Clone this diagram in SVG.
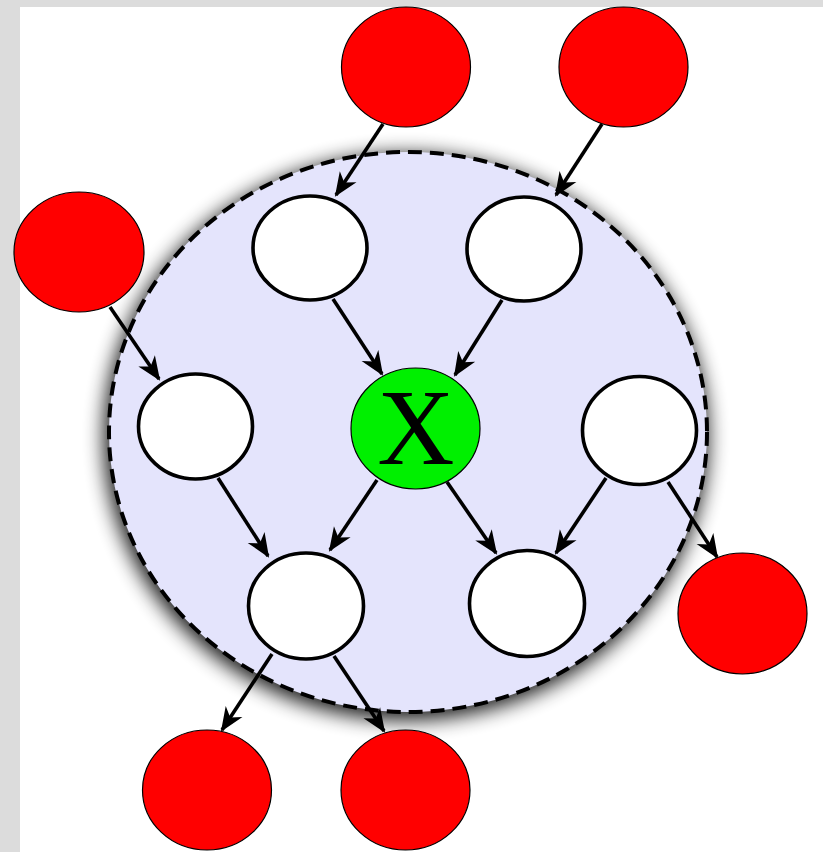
<svg xmlns="http://www.w3.org/2000/svg" width="823" height="852" viewBox="0 0 823 852">
<defs>
<style>
.red{fill:#ff0000;stroke:#000;stroke-width:1.2}
.white{fill:#fff;stroke:#000;stroke-width:3.6}
.edge{stroke:#000;stroke-width:3.6;fill:none;marker-end:url(#arr)}
</style>
<marker id="arr" viewBox="-26 -12 28 24" refX="-2" refY="0" markerWidth="28" markerHeight="24" markerUnits="userSpaceOnUse" orient="auto">
<path d="M0,0 L-24,-10 L-17,0 L-24,10 z" fill="#000"/>
</marker>
<filter id="blur" x="-20%" y="-20%" width="140%" height="140%">
<feGaussianBlur stdDeviation="10"/>
</filter>
</defs>
<rect x="0" y="0" width="823" height="852" fill="#dcdcdc"/>
<rect x="20" y="7" width="803" height="845" fill="#fff"/>
<g id="cluster">
<ellipse cx="406" cy="437" rx="302" ry="283" fill="#000" opacity="0.9" filter="url(#blur)"/>
<ellipse cx="408" cy="432" rx="299" ry="280" fill="#e4e4fc" stroke="#000" stroke-width="4" stroke-dasharray="14 8"/>
</g>
<g id="connectors">
<line class="edge" x1="383" y1="124" x2="336" y2="195"/>
<line class="edge" x1="602" y1="124" x2="556" y2="195"/>
<line class="edge" x1="110" y1="307" x2="159" y2="379"/>
<line class="edge" x1="333" y1="299" x2="382" y2="374"/>
<line class="edge" x1="502" y1="300" x2="455" y2="375"/>
<line class="edge" x1="218" y1="478" x2="268" y2="556"/>
<line class="edge" x1="377" y1="480" x2="330" y2="550"/>
<line class="edge" x1="447" y1="482" x2="496" y2="553"/>
<line class="edge" x1="606" y1="478" x2="556" y2="553"/>
<line class="edge" x1="668" y1="482" x2="717" y2="557"/>
<line class="edge" x1="272" y1="654" x2="222" y2="730"/>
<line class="edge" x1="334" y1="656" x2="384" y2="731"/>
</g>
<g id="r1"><ellipse class="red" cx="406" cy="67" rx="64.5" ry="60"/></g>
<g id="r2"><ellipse class="red" cx="623.5" cy="67" rx="64.5" ry="60"/></g>
<g id="r3"><ellipse class="red" cx="79" cy="252" rx="65" ry="60"/></g>
<g id="r4"><ellipse class="red" cx="742.5" cy="613.5" rx="64.5" ry="60.5"/></g>
<g id="r5"><ellipse class="red" cx="207" cy="790" rx="64.5" ry="60"/></g>
<g id="r6"><ellipse class="red" cx="405.5" cy="790" rx="64.5" ry="60"/></g>
<g id="w1"><ellipse class="white" cx="310" cy="248" rx="57" ry="52"/></g>
<g id="w2"><ellipse class="white" cx="524" cy="249" rx="57" ry="52"/></g>
<g id="w3"><ellipse class="white" cx="195.5" cy="426.5" rx="57" ry="52.5"/></g>
<g id="w4"><ellipse class="white" cx="639.5" cy="430.5" rx="57" ry="54"/></g>
<g id="w5"><ellipse class="white" cx="306" cy="606" rx="57.5" ry="53"/></g>
<g id="w6"><ellipse class="white" cx="527" cy="603.5" rx="57.5" ry="53"/></g>
<g id="x">
<ellipse cx="415.5" cy="428.5" rx="64.5" ry="60.5" fill="#00f000" stroke="#000" stroke-width="1.2"/>
<text x="416" y="464" text-anchor="middle" font-family="Liberation Serif, serif" font-size="107" fill="#000">X</text>
</g>
</svg>
